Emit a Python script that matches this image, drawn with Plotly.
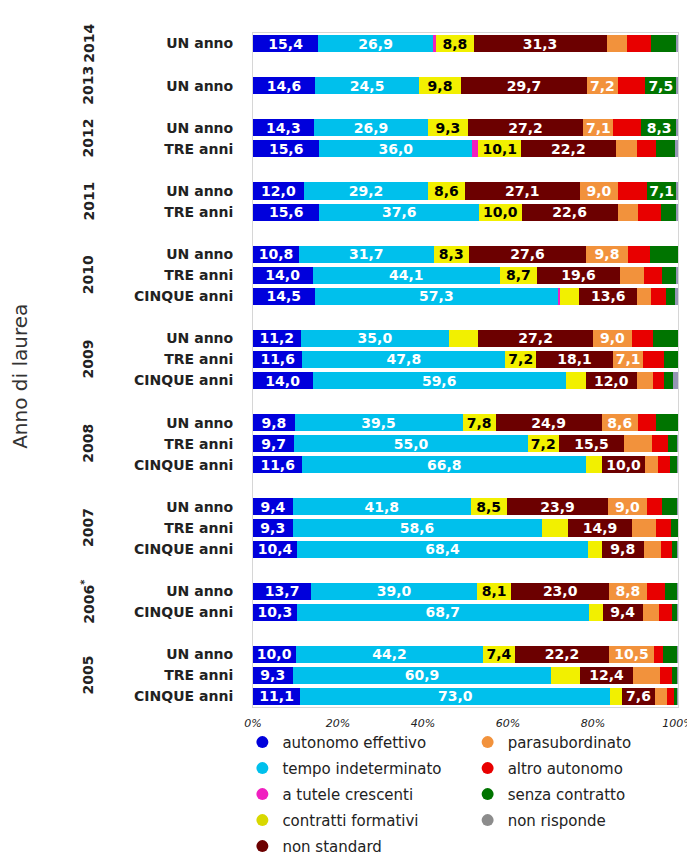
import plotly.graph_objects as go

# rows top -> bottom: (anno di laurea, anni dalla laurea)
years = ["2014", "2013", "2012", "2011", "2010", "2009", "2008", "2007", "2006", "2005"]
year_labels = ["2014", "2013", "2012", "2011", "2010", "2009", "2008", "2007", "2006<sup>*</sup>", "2005"]
cohorts = [
    ["UN anno"],
    ["UN anno"],
    ["UN anno", "TRE anni"],
    ["UN anno", "TRE anni"],
    ["UN anno", "TRE anni", "CINQUE anni"],
    ["UN anno", "TRE anni", "CINQUE anni"],
    ["UN anno", "TRE anni", "CINQUE anni"],
    ["UN anno", "TRE anni", "CINQUE anni"],
    ["UN anno", "CINQUE anni"],
    ["UN anno", "TRE anni", "CINQUE anni"],
]
x_ticks = [0, 20, 40, 60, 80, 100]
x_tick_labels = ["0%", "20%", "40%", "60%", "80%", "100%"]

autonomo_effettivo = [15.4, 14.6, 14.3, 15.6, 12.0, 15.6, 10.8, 14.0, 14.5, 11.2, 11.6, 14.0,
                      9.8, 9.7, 11.6, 9.4, 9.3, 10.4, 13.7, 10.3, 10.0, 9.3, 11.1]
tempo_indeterminato = [26.9, 24.5, 26.9, 36.0, 29.2, 37.6, 31.7, 44.1, 57.3, 35.0, 47.8, 59.6,
                       39.5, 55.0, 66.8, 41.8, 58.6, 68.4, 39.0, 68.7, 44.2, 60.9, 73.0]
tutele_crescenti = [0.8, 0.0, 0.0, 1.4, 0.0, 0.0, 0.0, 0.0, 0.5, 0.0, 0.0, 0.0,
                    0.0, 0.0, 0.0, 0.0, 0.0, 0.0, 0.0, 0.0, 0.0, 0.0, 0.0]
contratti_formativi = [8.8, 9.8, 9.3, 10.1, 8.6, 10.0, 8.3, 8.7, 4.5, 6.7, 7.2, 4.7,
                       7.8, 7.2, 3.8, 8.5, 6.3, 3.3, 8.1, 3.3, 7.4, 6.8, 2.8]
non_standard = [31.3, 29.7, 27.2, 22.2, 27.1, 22.6, 27.6, 19.6, 13.6, 27.2, 18.1, 12.0,
                24.9, 15.5, 10.0, 23.9, 14.9, 9.8, 23.0, 9.4, 22.2, 12.4, 7.6]
parasubordinato = [4.9, 7.2, 7.1, 5.0, 9.0, 4.9, 9.8, 5.6, 3.2, 9.0, 7.1, 3.7,
                   8.6, 6.4, 3.1, 9.0, 5.8, 4.0, 8.8, 3.9, 10.5, 6.4, 2.9]
altro_autonomo = [5.6, 6.4, 6.6, 4.5, 6.7, 5.3, 5.3, 4.2, 3.5, 4.9, 5.0, 2.8,
                  4.2, 3.8, 2.9, 3.6, 3.5, 2.7, 4.3, 3.1, 2.1, 2.8, 1.7]
senza_contratto = [6.0, 7.5, 8.3, 4.5, 7.1, 3.6, 6.5, 3.5, 2.1, 6.0, 3.2, 2.0,
                   5.2, 2.3, 1.7, 3.7, 1.6, 1.3, 3.0, 1.2, 3.5, 1.3, 0.7]
non_risponde = [0.2, 0.3, 0.3, 0.6, 0.3, 0.4, 0.0, 0.3, 0.7, 0.0, 0.0, 1.2,
                0.0, 0.1, 0.1, 0.1, 0.1, 0.1, 0.1, 0.1, 0.1, 0.1, 0.2]

series = [
    ("autonomo effettivo", autonomo_effettivo, "#0000dc", "white", 1, "legend"),
    ("tempo indeterminato", tempo_indeterminato, "#00c0ec", "white", 2, "legend"),
    ("a tutele crescenti", tutele_crescenti, "#f020c0", "white", 3, "legend"),
    ("contratti formativi", contratti_formativi, "#f2f000", "black", 4, "legend"),
    ("non standard", non_standard, "#6c0000", "white", 5, "legend"),
    ("parasubordinato", parasubordinato, "#f2923c", "white", 6, "legend2"),
    ("altro autonomo", altro_autonomo, "#e80000", "white", 7, "legend2"),
    ("senza contratto", senza_contratto, "#007400", "white", 8, "legend2"),
    ("non risponde", non_risponde, "#9696b4", "white", 9, "legend2"),
]
legend_marker = {"non risponde": "#8c8c8c", "contratti formativi": "#d8d800"}

# category slots, with one empty slot after each year
slots, row_keys, row_names, year_pos = [], [], [], []
for year, names in zip(years, cohorts):
    first = len(slots)
    for name in names:
        key = f"{year} {name}"
        slots.append(key)
        row_keys.append(key)
        row_names.append(name)
    year_pos.append((first + len(slots) - 1) / 2)
    if year != years[-1]:
        slots.append(f"{year} gap")

fig = go.Figure()
for name, values, color, txt_color, rank, legend in series:
    labels = [f"{v:.1f}".replace(".", ",") if v >= 7 else "" for v in values]
    fig.add_trace(go.Bar(
        x=values, y=row_keys, orientation="h", name=name,
        marker=dict(color=color, line=dict(width=0)),
        text=labels, textposition="inside", insidetextanchor="middle",
        textfont=dict(family="DejaVu Sans", size=14, color=txt_color, weight="bold"),
        showlegend=False, hoverinfo="skip",
    ))
    fig.add_trace(go.Scatter(
        x=[None], y=[None], mode="markers", name=name,
        marker=dict(symbol="circle", size=12, color=legend_marker.get(name, color)),
        legend=legend, legendgroup=name, legendrank=rank, showlegend=True,
    ))

for pos, label in zip(year_pos, year_labels):
    fig.add_annotation(x=-0.388, xref="paper", y=pos, yref="y", text=label, textangle=-90,
                       showarrow=False, xanchor="center", yanchor="middle",
                       font=dict(family="DejaVu Sans", size=14, color="#222", weight="bold"))

fig.add_annotation(x=-0.548, xref="paper", y=0.49, yref="paper", text="Anno di laurea", textangle=-90,
                   showarrow=False, xanchor="center", yanchor="middle",
                   font=dict(family="DejaVu Sans", size=20, color="#333"))

legend_style = dict(font=dict(family="DejaVu Sans", size=15, color="#222"), orientation="v",
                    yanchor="top", y=-0.028, xanchor="left", tracegroupgap=3.5,
                    bgcolor="rgba(0,0,0,0)", itemwidth=30)

# the page body adds an 8px margin, so the figure is 8px smaller than the window
fig.update_layout(
    width=687, height=850,
    margin=dict(l=245, r=17, t=25, b=151, autoexpand=False),
    plot_bgcolor="white", paper_bgcolor="white",
    barmode="stack", bargap=0.19,
    uniformtext=dict(minsize=14, mode="show"),
    legend=dict(x=-0.025, **legend_style),
    legend2=dict(x=0.505, **legend_style),
    xaxis=dict(range=[0, 100], tickvals=x_ticks, ticktext=x_tick_labels,
               showgrid=False, zeroline=False, showline=True, mirror=True,
               linecolor="#d6d6d6", linewidth=1, ticks="", ticklabelstandoff=6,
               tickfont=dict(family="DejaVu Sans", size=11, color="#222", style="italic")),
    yaxis=dict(type="category", categoryorder="array", categoryarray=slots,
               range=[len(slots) - 0.5, -0.5], tickvals=row_keys, ticktext=row_names,
               showgrid=False, zeroline=False, showline=True, mirror=True,
               linecolor="#d6d6d6", linewidth=1, ticks="", ticklabelstandoff=16,
               tickfont=dict(family="DejaVu Sans", size=14, color="#222", weight="bold")),
)

fig.write_html("out.html")
